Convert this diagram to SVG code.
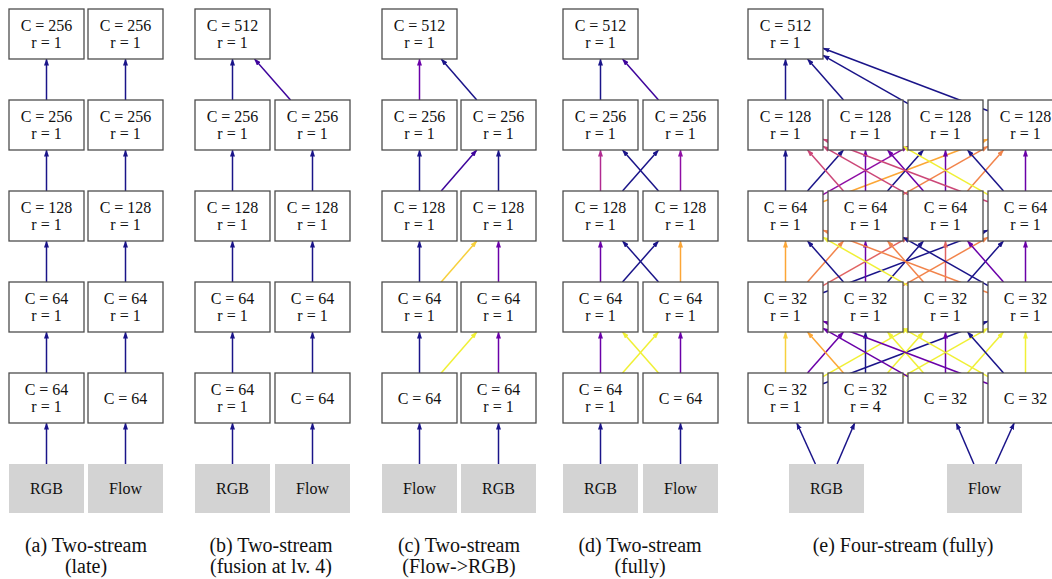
<svg xmlns="http://www.w3.org/2000/svg" width="1052" height="579" viewBox="0 0 1052 579">
<style>
.b{fill:#fff;stroke:#4d4d4d;stroke-width:1.3}
.in{fill:#d3d3d3}
.t{font-family:"Liberation Serif","Times New Roman",serif;font-size:16px;text-anchor:middle;fill:#111}
.cap{font-family:"Liberation Serif","Times New Roman",serif;font-size:20px;text-anchor:middle;fill:#111}
.e line{fill:none;stroke-width:1.5}
.c0{stroke:#1a1489;marker-end:url(#m0)}
.c1{stroke:#3e049c;marker-end:url(#m1)}
.c2{stroke:#6a00a8;marker-end:url(#m2)}
.c3{stroke:#8f0da4;marker-end:url(#m3)}
.c4{stroke:#b12a90;marker-end:url(#m4)}
.c5{stroke:#cc4778;marker-end:url(#m5)}
.c6{stroke:#e16462;marker-end:url(#m6)}
.c7{stroke:#f2844b;marker-end:url(#m7)}
.c8{stroke:#fca636;marker-end:url(#m8)}
.c9{stroke:#f7d03c;marker-end:url(#m9)}
.c10{stroke:#f0f035;marker-end:url(#m10)}
</style>
<defs>
<marker id="m0" markerWidth="7" markerHeight="5" refX="6.5" refY="2.5" orient="auto" markerUnits="userSpaceOnUse"><path d="M0,0 L7,2.5 L0,5 z" fill="#1a1489"/></marker>
<marker id="m1" markerWidth="7" markerHeight="5" refX="6.5" refY="2.5" orient="auto" markerUnits="userSpaceOnUse"><path d="M0,0 L7,2.5 L0,5 z" fill="#3e049c"/></marker>
<marker id="m2" markerWidth="7" markerHeight="5" refX="6.5" refY="2.5" orient="auto" markerUnits="userSpaceOnUse"><path d="M0,0 L7,2.5 L0,5 z" fill="#6a00a8"/></marker>
<marker id="m3" markerWidth="7" markerHeight="5" refX="6.5" refY="2.5" orient="auto" markerUnits="userSpaceOnUse"><path d="M0,0 L7,2.5 L0,5 z" fill="#8f0da4"/></marker>
<marker id="m4" markerWidth="7" markerHeight="5" refX="6.5" refY="2.5" orient="auto" markerUnits="userSpaceOnUse"><path d="M0,0 L7,2.5 L0,5 z" fill="#b12a90"/></marker>
<marker id="m5" markerWidth="7" markerHeight="5" refX="6.5" refY="2.5" orient="auto" markerUnits="userSpaceOnUse"><path d="M0,0 L7,2.5 L0,5 z" fill="#cc4778"/></marker>
<marker id="m6" markerWidth="7" markerHeight="5" refX="6.5" refY="2.5" orient="auto" markerUnits="userSpaceOnUse"><path d="M0,0 L7,2.5 L0,5 z" fill="#e16462"/></marker>
<marker id="m7" markerWidth="7" markerHeight="5" refX="6.5" refY="2.5" orient="auto" markerUnits="userSpaceOnUse"><path d="M0,0 L7,2.5 L0,5 z" fill="#f2844b"/></marker>
<marker id="m8" markerWidth="7" markerHeight="5" refX="6.5" refY="2.5" orient="auto" markerUnits="userSpaceOnUse"><path d="M0,0 L7,2.5 L0,5 z" fill="#fca636"/></marker>
<marker id="m9" markerWidth="7" markerHeight="5" refX="6.5" refY="2.5" orient="auto" markerUnits="userSpaceOnUse"><path d="M0,0 L7,2.5 L0,5 z" fill="#f7d03c"/></marker>
<marker id="m10" markerWidth="7" markerHeight="5" refX="6.5" refY="2.5" orient="auto" markerUnits="userSpaceOnUse"><path d="M0,0 L7,2.5 L0,5 z" fill="#f0f035"/></marker>
</defs>
<rect width="1052" height="579" fill="#fff"/>

<g id="connectors" class="e">
<!-- (a) -->
<line class="c0" x1="46.5" y1="464" x2="46.5" y2="423"/>
<line class="c0" x1="46.5" y1="373" x2="46.5" y2="332"/>
<line class="c0" x1="46.5" y1="282" x2="46.5" y2="241"/>
<line class="c0" x1="46.5" y1="191" x2="46.5" y2="150"/>
<line class="c0" x1="46.5" y1="100" x2="46.5" y2="59"/>
<line class="c0" x1="125.5" y1="464" x2="125.5" y2="423"/>
<line class="c0" x1="125.5" y1="373" x2="125.5" y2="332"/>
<line class="c0" x1="125.5" y1="282" x2="125.5" y2="241"/>
<line class="c0" x1="125.5" y1="191" x2="125.5" y2="150"/>
<line class="c0" x1="125.5" y1="100" x2="125.5" y2="59"/>
<!-- (b) -->
<line class="c0" x1="232.5" y1="464" x2="232.5" y2="423"/>
<line class="c0" x1="232.5" y1="373" x2="232.5" y2="332"/>
<line class="c0" x1="232.5" y1="282" x2="232.5" y2="241"/>
<line class="c0" x1="232.5" y1="191" x2="232.5" y2="150"/>
<line class="c0" x1="232.5" y1="100" x2="232.5" y2="59"/>
<line class="c0" x1="312.5" y1="464" x2="312.5" y2="423"/>
<line class="c0" x1="312.5" y1="373" x2="312.5" y2="332"/>
<line class="c0" x1="312.5" y1="282" x2="312.5" y2="241"/>
<line class="c0" x1="312.5" y1="191" x2="312.5" y2="150"/>
<line class="c1" x1="290.5" y1="100" x2="254.5" y2="59"/>
<!-- (c) -->
<line class="c2" x1="419.5" y1="100" x2="419.5" y2="59"/>
<line class="c0" x1="476.8" y1="100" x2="441.2" y2="59"/>
<line class="c0" x1="419.5" y1="191" x2="419.5" y2="150"/>
<line class="c1" x1="441.2" y1="191" x2="476.8" y2="150"/>
<line class="c0" x1="498.5" y1="191" x2="498.5" y2="150"/>
<line class="c0" x1="419.5" y1="282" x2="419.5" y2="241"/>
<line class="c9" x1="441.2" y1="282" x2="476.8" y2="241"/>
<line class="c2" x1="498.5" y1="282" x2="498.5" y2="241"/>
<line class="c0" x1="419.5" y1="373" x2="419.5" y2="332"/>
<line class="c10" x1="441.2" y1="373" x2="476.8" y2="332"/>
<line class="c2" x1="498.5" y1="373" x2="498.5" y2="332"/>
<line class="c0" x1="419.5" y1="464" x2="419.5" y2="423"/>
<line class="c0" x1="498.5" y1="464" x2="498.5" y2="423"/>
<!-- (d) -->
<line class="c0" x1="600.5" y1="100" x2="600.5" y2="59"/>
<line class="c1" x1="658.5" y1="100" x2="622.5" y2="59"/>
<line class="c4" x1="600.5" y1="191" x2="600.5" y2="150"/>
<line class="c0" x1="622.5" y1="191" x2="658.5" y2="150"/>
<line class="c0" x1="658.5" y1="191" x2="622.5" y2="150"/>
<line class="c3" x1="680.5" y1="191" x2="680.5" y2="150"/>
<line class="c2" x1="600.5" y1="282" x2="600.5" y2="241"/>
<line class="c0" x1="622.5" y1="282" x2="658.5" y2="241"/>
<line class="c0" x1="658.5" y1="282" x2="622.5" y2="241"/>
<line class="c8" x1="680.5" y1="282" x2="680.5" y2="241"/>
<line class="c2" x1="600.5" y1="373" x2="600.5" y2="332"/>
<line class="c10" x1="622.5" y1="373" x2="658.5" y2="332"/>
<line class="c10" x1="658.5" y1="373" x2="622.5" y2="332"/>
<line class="c2" x1="680.5" y1="373" x2="680.5" y2="332"/>
<line class="c0" x1="600.5" y1="464" x2="600.5" y2="423"/>
<line class="c0" x1="680.5" y1="464" x2="680.5" y2="423"/>
<!-- (e) top -->
<line class="c0" x1="785.5" y1="100" x2="785.5" y2="59"/>
<line class="c0" x1="843.5" y1="100" x2="807.5" y2="59"/>
<line class="c0" x1="908" y1="103.67" x2="823" y2="55.33"/>
<line class="c0" x1="988" y1="110.78" x2="823" y2="48.22"/>
<!-- (e) row3 -> row2 -->
<line class="c0" x1="785.5" y1="191" x2="785.5" y2="150"/>
<line class="c0" x1="807.5" y1="191" x2="843.5" y2="150"/>
<line class="c3" x1="823" y1="194.67" x2="908" y2="146.33"/>
<line class="c8" x1="823" y1="201.78" x2="988" y2="139.22"/>
<line class="c5" x1="843.5" y1="191" x2="807.5" y2="150"/>
<line class="c2" x1="865.5" y1="191" x2="865.5" y2="150"/>
<line class="c0" x1="887.5" y1="191" x2="923.5" y2="150"/>
<line class="c7" x1="903" y1="194.67" x2="988" y2="146.33"/>
<line class="c5" x1="908" y1="194.67" x2="823" y2="146.33"/>
<line class="c2" x1="923.5" y1="191" x2="887.5" y2="150"/>
<line class="c2" x1="945.5" y1="191" x2="945.5" y2="150"/>
<line class="c7" x1="967.5" y1="191" x2="1003.5" y2="150"/>
<line class="c5" x1="988" y1="201.78" x2="823" y2="139.22"/>
<line class="c10" x1="988" y1="194.67" x2="903" y2="146.33"/>
<line class="c0" x1="1003.5" y1="191" x2="967.5" y2="150"/>
<line class="c2" x1="1025.5" y1="191" x2="1025.5" y2="150"/>
<!-- (e) row4 -> row3 -->
<line class="c8" x1="785.5" y1="282" x2="785.5" y2="241"/>
<line class="c7" x1="807.5" y1="282" x2="843.5" y2="241"/>
<line class="c6" x1="823" y1="285.67" x2="908" y2="237.33"/>
<line class="c0" x1="823" y1="292.78" x2="988" y2="230.22"/>
<line class="c0" x1="843.5" y1="282" x2="807.5" y2="241"/>
<line class="c2" x1="865.5" y1="282" x2="865.5" y2="241"/>
<line class="c0" x1="887.5" y1="282" x2="923.5" y2="241"/>
<line class="c7" x1="903" y1="285.67" x2="988" y2="237.33"/>
<line class="c10" x1="908" y1="285.67" x2="823" y2="237.33"/>
<line class="c7" x1="923.5" y1="282" x2="887.5" y2="241"/>
<line class="c6" x1="945.5" y1="282" x2="945.5" y2="241"/>
<line class="c0" x1="967.5" y1="282" x2="1003.5" y2="241"/>
<line class="c7" x1="988" y1="292.78" x2="823" y2="230.22"/>
<line class="c0" x1="988" y1="285.67" x2="903" y2="237.33"/>
<line class="c2" x1="1003.5" y1="282" x2="967.5" y2="241"/>
<line class="c2" x1="1025.5" y1="282" x2="1025.5" y2="241"/>
<!-- (e) row5 -> row4 -->
<line class="c9" x1="785.5" y1="373" x2="785.5" y2="332"/>
<line class="c2" x1="807.5" y1="373" x2="843.5" y2="332"/>
<line class="c10" x1="823" y1="376.67" x2="908" y2="328.33"/>
<line class="c0" x1="823" y1="383.78" x2="988" y2="321.22"/>
<line class="c8" x1="843.5" y1="373" x2="807.5" y2="332"/>
<line class="c0" x1="865.5" y1="373" x2="865.5" y2="332"/>
<line class="c10" x1="887.5" y1="373" x2="923.5" y2="332"/>
<line class="c10" x1="903" y1="376.67" x2="988" y2="328.33"/>
<line class="c2" x1="908" y1="376.67" x2="823" y2="328.33"/>
<line class="c10" x1="923.5" y1="373" x2="887.5" y2="332"/>
<line class="c2" x1="945.5" y1="373" x2="945.5" y2="332"/>
<line class="c10" x1="967.5" y1="373" x2="1003.5" y2="332"/>
<line class="c2" x1="988" y1="383.78" x2="823" y2="321.22"/>
<line class="c10" x1="988" y1="376.67" x2="903" y2="328.33"/>
<line class="c0" x1="1003.5" y1="373" x2="967.5" y2="332"/>
<line class="c10" x1="1025.5" y1="373" x2="1025.5" y2="332"/>
<!-- (e) inputs -->
<line class="c0" x1="815.4" y1="464" x2="796.8" y2="423"/>
<line class="c0" x1="837.1" y1="464" x2="854.7" y2="423"/>
<line class="c0" x1="973.9" y1="464" x2="956.3" y2="423"/>
<line class="c0" x1="995.6" y1="464" x2="1014.2" y2="423"/>
</g>

<!-- Panel (a) -->
<g id="a-r1-1"><rect class="b" x="9" y="9" width="75" height="50"/><text class="t" x="46.5" y="31">C = 256</text><text class="t" x="46.5" y="47.5">r = 1</text></g>
<g id="a-r1-2"><rect class="b" x="88" y="9" width="75" height="50"/><text class="t" x="125.5" y="31">C = 256</text><text class="t" x="125.5" y="47.5">r = 1</text></g>
<g id="a-r2-1"><rect class="b" x="9" y="100" width="75" height="50"/><text class="t" x="46.5" y="122">C = 256</text><text class="t" x="46.5" y="138.5">r = 1</text></g>
<g id="a-r2-2"><rect class="b" x="88" y="100" width="75" height="50"/><text class="t" x="125.5" y="122">C = 256</text><text class="t" x="125.5" y="138.5">r = 1</text></g>
<g id="a-r3-1"><rect class="b" x="9" y="191" width="75" height="50"/><text class="t" x="46.5" y="213">C = 128</text><text class="t" x="46.5" y="229.5">r = 1</text></g>
<g id="a-r3-2"><rect class="b" x="88" y="191" width="75" height="50"/><text class="t" x="125.5" y="213">C = 128</text><text class="t" x="125.5" y="229.5">r = 1</text></g>
<g id="a-r4-1"><rect class="b" x="9" y="282" width="75" height="50"/><text class="t" x="46.5" y="304">C = 64</text><text class="t" x="46.5" y="320.5">r = 1</text></g>
<g id="a-r4-2"><rect class="b" x="88" y="282" width="75" height="50"/><text class="t" x="125.5" y="304">C = 64</text><text class="t" x="125.5" y="320.5">r = 1</text></g>
<g id="a-r5-1"><rect class="b" x="9" y="373" width="75" height="50"/><text class="t" x="46.5" y="395">C = 64</text><text class="t" x="46.5" y="411.5">r = 1</text></g>
<g id="a-r5-2"><rect class="b" x="88" y="373" width="75" height="50"/><text class="t" x="125.5" y="403.5">C = 64</text></g>
<g id="a-rgb"><rect class="in" x="9" y="464" width="75" height="49"/><text class="t" x="46.5" y="494">RGB</text></g>
<g id="a-flow"><rect class="in" x="88" y="464" width="75" height="49"/><text class="t" x="125.5" y="494">Flow</text></g>

<!-- Panel (b) -->
<g id="b-top"><rect class="b" x="195" y="9" width="75" height="50"/><text class="t" x="232.5" y="31">C = 512</text><text class="t" x="232.5" y="47.5">r = 1</text></g>
<g id="b-r2-1"><rect class="b" x="195" y="100" width="75" height="50"/><text class="t" x="232.5" y="122">C = 256</text><text class="t" x="232.5" y="138.5">r = 1</text></g>
<g id="b-r2-2"><rect class="b" x="275" y="100" width="75" height="50"/><text class="t" x="312.5" y="122">C = 256</text><text class="t" x="312.5" y="138.5">r = 1</text></g>
<g id="b-r3-1"><rect class="b" x="195" y="191" width="75" height="50"/><text class="t" x="232.5" y="213">C = 128</text><text class="t" x="232.5" y="229.5">r = 1</text></g>
<g id="b-r3-2"><rect class="b" x="275" y="191" width="75" height="50"/><text class="t" x="312.5" y="213">C = 128</text><text class="t" x="312.5" y="229.5">r = 1</text></g>
<g id="b-r4-1"><rect class="b" x="195" y="282" width="75" height="50"/><text class="t" x="232.5" y="304">C = 64</text><text class="t" x="232.5" y="320.5">r = 1</text></g>
<g id="b-r4-2"><rect class="b" x="275" y="282" width="75" height="50"/><text class="t" x="312.5" y="304">C = 64</text><text class="t" x="312.5" y="320.5">r = 1</text></g>
<g id="b-r5-1"><rect class="b" x="195" y="373" width="75" height="50"/><text class="t" x="232.5" y="395">C = 64</text><text class="t" x="232.5" y="411.5">r = 1</text></g>
<g id="b-r5-2"><rect class="b" x="275" y="373" width="75" height="50"/><text class="t" x="312.5" y="403.5">C = 64</text></g>
<g id="b-rgb"><rect class="in" x="195" y="464" width="75" height="49"/><text class="t" x="232.5" y="494">RGB</text></g>
<g id="b-flow"><rect class="in" x="275" y="464" width="75" height="49"/><text class="t" x="312.5" y="494">Flow</text></g>

<!-- Panel (c) -->
<g id="c-top"><rect class="b" x="382" y="9" width="75" height="50"/><text class="t" x="419.5" y="31">C = 512</text><text class="t" x="419.5" y="47.5">r = 1</text></g>
<g id="c-r2-1"><rect class="b" x="382" y="100" width="75" height="50"/><text class="t" x="419.5" y="122">C = 256</text><text class="t" x="419.5" y="138.5">r = 1</text></g>
<g id="c-r2-2"><rect class="b" x="461" y="100" width="75" height="50"/><text class="t" x="498.5" y="122">C = 256</text><text class="t" x="498.5" y="138.5">r = 1</text></g>
<g id="c-r3-1"><rect class="b" x="382" y="191" width="75" height="50"/><text class="t" x="419.5" y="213">C = 128</text><text class="t" x="419.5" y="229.5">r = 1</text></g>
<g id="c-r3-2"><rect class="b" x="461" y="191" width="75" height="50"/><text class="t" x="498.5" y="213">C = 128</text><text class="t" x="498.5" y="229.5">r = 1</text></g>
<g id="c-r4-1"><rect class="b" x="382" y="282" width="75" height="50"/><text class="t" x="419.5" y="304">C = 64</text><text class="t" x="419.5" y="320.5">r = 1</text></g>
<g id="c-r4-2"><rect class="b" x="461" y="282" width="75" height="50"/><text class="t" x="498.5" y="304">C = 64</text><text class="t" x="498.5" y="320.5">r = 1</text></g>
<g id="c-r5-1"><rect class="b" x="382" y="373" width="75" height="50"/><text class="t" x="419.5" y="403.5">C = 64</text></g>
<g id="c-r5-2"><rect class="b" x="461" y="373" width="75" height="50"/><text class="t" x="498.5" y="395">C = 64</text><text class="t" x="498.5" y="411.5">r = 1</text></g>
<g id="c-flow"><rect class="in" x="382" y="464" width="75" height="49"/><text class="t" x="419.5" y="494">Flow</text></g>
<g id="c-rgb"><rect class="in" x="461" y="464" width="75" height="49"/><text class="t" x="498.5" y="494">RGB</text></g>

<!-- Panel (d) -->
<g id="d-top"><rect class="b" x="563" y="9" width="75" height="50"/><text class="t" x="600.5" y="31">C = 512</text><text class="t" x="600.5" y="47.5">r = 1</text></g>
<g id="d-r2-1"><rect class="b" x="563" y="100" width="75" height="50"/><text class="t" x="600.5" y="122">C = 256</text><text class="t" x="600.5" y="138.5">r = 1</text></g>
<g id="d-r2-2"><rect class="b" x="643" y="100" width="75" height="50"/><text class="t" x="680.5" y="122">C = 256</text><text class="t" x="680.5" y="138.5">r = 1</text></g>
<g id="d-r3-1"><rect class="b" x="563" y="191" width="75" height="50"/><text class="t" x="600.5" y="213">C = 128</text><text class="t" x="600.5" y="229.5">r = 1</text></g>
<g id="d-r3-2"><rect class="b" x="643" y="191" width="75" height="50"/><text class="t" x="680.5" y="213">C = 128</text><text class="t" x="680.5" y="229.5">r = 1</text></g>
<g id="d-r4-1"><rect class="b" x="563" y="282" width="75" height="50"/><text class="t" x="600.5" y="304">C = 64</text><text class="t" x="600.5" y="320.5">r = 1</text></g>
<g id="d-r4-2"><rect class="b" x="643" y="282" width="75" height="50"/><text class="t" x="680.5" y="304">C = 64</text><text class="t" x="680.5" y="320.5">r = 1</text></g>
<g id="d-r5-1"><rect class="b" x="563" y="373" width="75" height="50"/><text class="t" x="600.5" y="395">C = 64</text><text class="t" x="600.5" y="411.5">r = 1</text></g>
<g id="d-r5-2"><rect class="b" x="643" y="373" width="75" height="50"/><text class="t" x="680.5" y="403.5">C = 64</text></g>
<g id="d-rgb"><rect class="in" x="563" y="464" width="75" height="49"/><text class="t" x="600.5" y="494">RGB</text></g>
<g id="d-flow"><rect class="in" x="643" y="464" width="75" height="49"/><text class="t" x="680.5" y="494">Flow</text></g>

<!-- Panel (e) -->
<g id="e-top"><rect class="b" x="748" y="9" width="75" height="50"/><text class="t" x="785.5" y="31">C = 512</text><text class="t" x="785.5" y="47.5">r = 1</text></g>
<g id="e-r2-1"><rect class="b" x="748" y="100" width="75" height="50"/><text class="t" x="785.5" y="122">C = 128</text><text class="t" x="785.5" y="138.5">r = 1</text></g>
<g id="e-r2-2"><rect class="b" x="828" y="100" width="75" height="50"/><text class="t" x="865.5" y="122">C = 128</text><text class="t" x="865.5" y="138.5">r = 1</text></g>
<g id="e-r2-3"><rect class="b" x="908" y="100" width="75" height="50"/><text class="t" x="945.5" y="122">C = 128</text><text class="t" x="945.5" y="138.5">r = 1</text></g>
<g id="e-r2-4"><rect class="b" x="988" y="100" width="75" height="50"/><text class="t" x="1025.5" y="122">C = 128</text><text class="t" x="1025.5" y="138.5">r = 1</text></g>
<g id="e-r3-1"><rect class="b" x="748" y="191" width="75" height="50"/><text class="t" x="785.5" y="213">C = 64</text><text class="t" x="785.5" y="229.5">r = 1</text></g>
<g id="e-r3-2"><rect class="b" x="828" y="191" width="75" height="50"/><text class="t" x="865.5" y="213">C = 64</text><text class="t" x="865.5" y="229.5">r = 1</text></g>
<g id="e-r3-3"><rect class="b" x="908" y="191" width="75" height="50"/><text class="t" x="945.5" y="213">C = 64</text><text class="t" x="945.5" y="229.5">r = 1</text></g>
<g id="e-r3-4"><rect class="b" x="988" y="191" width="75" height="50"/><text class="t" x="1025.5" y="213">C = 64</text><text class="t" x="1025.5" y="229.5">r = 1</text></g>
<g id="e-r4-1"><rect class="b" x="748" y="282" width="75" height="50"/><text class="t" x="785.5" y="304">C = 32</text><text class="t" x="785.5" y="320.5">r = 1</text></g>
<g id="e-r4-2"><rect class="b" x="828" y="282" width="75" height="50"/><text class="t" x="865.5" y="304">C = 32</text><text class="t" x="865.5" y="320.5">r = 1</text></g>
<g id="e-r4-3"><rect class="b" x="908" y="282" width="75" height="50"/><text class="t" x="945.5" y="304">C = 32</text><text class="t" x="945.5" y="320.5">r = 1</text></g>
<g id="e-r4-4"><rect class="b" x="988" y="282" width="75" height="50"/><text class="t" x="1025.5" y="304">C = 32</text><text class="t" x="1025.5" y="320.5">r = 1</text></g>
<g id="e-r5-1"><rect class="b" x="748" y="373" width="75" height="50"/><text class="t" x="785.5" y="395">C = 32</text><text class="t" x="785.5" y="411.5">r = 1</text></g>
<g id="e-r5-2"><rect class="b" x="828" y="373" width="75" height="50"/><text class="t" x="865.5" y="395">C = 32</text><text class="t" x="865.5" y="411.5">r = 4</text></g>
<g id="e-r5-3"><rect class="b" x="908" y="373" width="75" height="50"/><text class="t" x="945.5" y="403.5">C = 32</text></g>
<g id="e-r5-4"><rect class="b" x="988" y="373" width="75" height="50"/><text class="t" x="1025.5" y="403.5">C = 32</text></g>
<g id="e-rgb"><rect class="in" x="789" y="464" width="75" height="49"/><text class="t" x="826.5" y="494">RGB</text></g>
<g id="e-flow"><rect class="in" x="947" y="464" width="75" height="49"/><text class="t" x="984.5" y="494">Flow</text></g>

<g id="captions">
<text class="cap" x="86" y="552">(a) Two-stream</text>
<text class="cap" x="86" y="573">(late)</text>
<text class="cap" x="271" y="552">(b) Two-stream</text>
<text class="cap" x="271" y="573">(fusion at lv. 4)</text>
<text class="cap" x="459" y="552">(c) Two-stream</text>
<text class="cap" x="459" y="573">(Flow-&gt;RGB)</text>
<text class="cap" x="640" y="552">(d) Two-stream</text>
<text class="cap" x="640" y="573">(fully)</text>
<text class="cap" x="903" y="552">(e) Four-stream (fully)</text>
</g>
</svg>
